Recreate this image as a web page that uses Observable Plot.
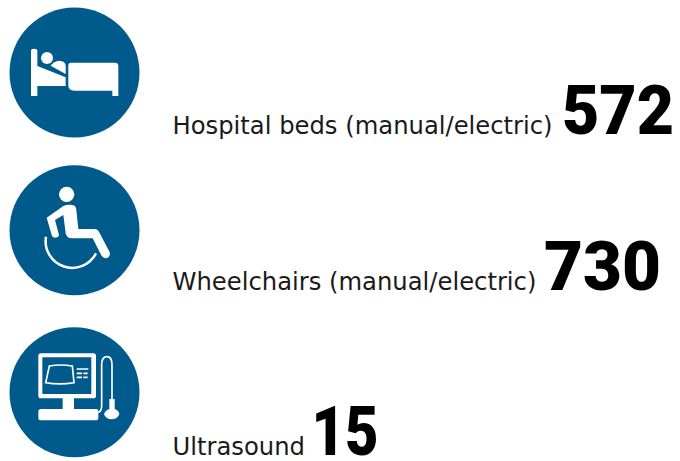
<!DOCTYPE html>
<html><head><meta charset="utf-8">
<script src="https://cdn.jsdelivr.net/npm/d3@7"></script>
<script src="https://cdn.jsdelivr.net/npm/@observablehq/plot@0.6"></script>
<style>html,body{margin:0;padding:0;background:#fff}svg{display:block}</style>
</head><body><div id="chart"></div>
<script>
const categories = ["Hospital beds (manual/electric)", "Wheelchairs (manual/electric)", "Ultrasound"];
const counts = [572, 730, 15];
const icons = ["bed", "wheelchair", "ultrasound"];

const W = 680, H = 461;
const BLUE = "#005a8b";
const rowCenter = d3.scaleOrdinal(categories, [72, 229.7, 391.7]);
const rowBase = d3.scaleOrdinal(categories, [133, 289, 454.5]);
const numWidth = d3.scaleOrdinal(categories, [112, 117, 67]);
const numLeft = d3.scaleOrdinal(categories, [561.5, 543.5, 311]);
const labelFont = "DejaVu Sans, Verdana, sans-serif";
const numFont = "Roboto, sans-serif";
const labelSize = 24.25, numSize = 68;
const labelX = 172;

const rows = categories.map((c, i) => ({
  category: c, count: counts[i], icon: icons[i],
  center: rowCenter(c), base: rowBase(c), numX: numLeft(c), numW: numWidth(c)
}));

const glyphs = {
  bed: `<path d="M93 288V152Q93 146 102 146Q112 146 112 152V198L197 232V258H112V288Z"/>
        <circle cx="141" cy="174" r="18"/>
        <path d="M152 197Q162 184 178 182Q195 183 197 196V222Z"/>
        <path d="M205 196Q205 188 213 188H345Q355 188 355 198V288H337V272H222Q207 272 205 258Z"/>`,
  wheelchair: `<circle cx="200" cy="118" r="23"/>
        <path d="M140 188L190 153Q200 148 218 150Q228 152 229 165L235 222H285Q293 222 297 230L329 292Q332 305 320 309Q311 311 305 303L278 250H215Q200 250 197 235L190 180L165 195L177 240Q175 248 165 248Q157 248 155 240Z"/>
        <path d="M138 245A80 80 0 0 0 288 295" fill="none" stroke="#fff" stroke-width="7.5"/>`,
  ultrasound: `<path fill-rule="evenodd" d="M123 115H280Q288 115 288 123V242Q288 250 280 250H222V282H288Q295 282 295 290V308Q295 316 288 316H123Q115 316 115 308V290Q115 282 123 282H188V250H123Q115 250 115 242V123Q115 115 123 115ZM127 127V237H274V127Z"/>
        <path d="M148 153Q182 147 217 153L222 203Q180 210 137 203Z" fill="none" stroke="#fff" stroke-width="5"/>
        <path d="M230 162H265M230 175H246M250 175H263M230 187H246M250 187H263" fill="none" stroke="#fff" stroke-width="5"/>
        <path d="M295 292Q305 288 305 272V150Q305 125 321 125Q336 125 336 150V255" fill="none" stroke="#fff" stroke-width="5"/>
        <path d="M328 252H344V282Q358 288 358 298Q352 313 335 313Q318 313 312 298Q314 288 328 282Z"/>`
};

function iconMark(_, scales) {
  const g = d3.create("svg:g").attr("fill", "#fff");
  const anchor = {bed: [222, 216], wheelchair: [222, 224], ultrasound: [222, 230]};
  for (const r of rows) {
    const [ax, ay] = anchor[r.icon];
    g.append("g")
      .attr("transform", `translate(${scales.x(74)},${scales.y(r.center)}) scale(${1/3}) translate(${-ax},${-ay})`)
      .html(glyphs[r.icon]);
  }
  return g.node();
}

const fitNumbers = (index, scales, values, dims, context, next) => {
  const g = next(index, scales, values, dims, context);
  d3.select(g).selectAll("text").each(function (_, k) {
    this.setAttribute("textLength", rows[index[k]].numW);
    this.setAttribute("lengthAdjust", "spacingAndGlyphs");
  });
  return g;
};

const chart = Plot.plot({
  width: W, height: H, margin: 0,
  x: {domain: [0, W], range: [0, W], axis: null},
  y: {domain: [0, H], range: [0, H], axis: null},
  style: {background: "#fff"},
  marks: [
    Plot.dot(rows, {x: () => 74, y: "center", r: 65, fill: BLUE}),
    iconMark,
    Plot.text(rows, {x: () => labelX, y: "base", text: "category", textAnchor: "start", lineAnchor: "bottom", dy: 0,
      fontFamily: labelFont, fontSize: labelSize, fill: "#1a1a1a"}),
    Plot.text(rows, {x: "numX", y: "base", text: d => String(d.count), textAnchor: "start", lineAnchor: "bottom", dy: 0,
      fontFamily: numFont, fontWeight: 900, fontSize: numSize, fill: "#000", render: fitNumbers})
  ]
});
document.getElementById("chart").append(chart);
</script></body></html>
